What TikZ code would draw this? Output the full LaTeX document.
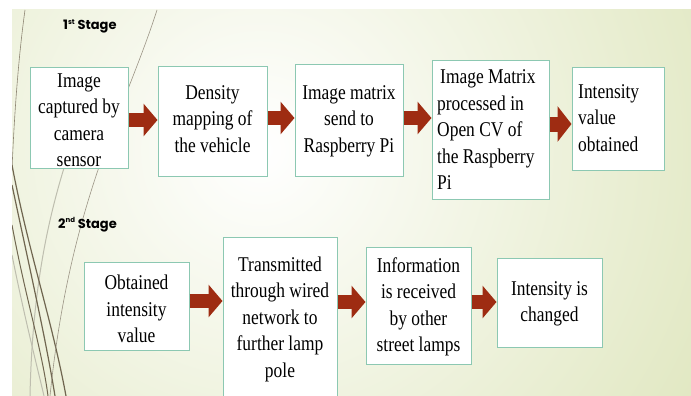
\documentclass[tikz,border=0pt]{standalone}
\usepackage{fontspec}
\setmainfont{Liberation Serif}
\newfontfamily\boxfont{Liberation Serif}[FakeStretch=0.83]
\newfontfamily\headfont{Poppins}
\usetikzlibrary{arrows.meta}
\definecolor{bordc}{RGB}{140,200,178}
\definecolor{arrc}{RGB}{158,44,18}
\definecolor{bgtint}{RGB}{224,231,192}
\definecolor{strand}{RGB}{112,102,80}
\definecolor{strandlight}{RGB}{190,190,175}
\begin{document}
\begin{tikzpicture}[x=1pt,y=-1pt,
  box/.style={draw=bordc, line width=1pt, fill=white, inner sep=0pt},
  txt/.style={inner sep=0pt, font=\boxfont\fontsize{21}{26.5}\selectfont, align=center},
  txtl/.style={txt, align=left, anchor=west},
  blk/.style={draw=arrc, line width=14pt, -{Triangle[width=32pt,length=14pt]}},
  blkbig/.style={draw=arrc, line width=15pt, -{Triangle[width=35pt,length=14pt]}},
  head/.style={font=\headfont\bfseries\fontsize{13}{13}\selectfont, anchor=base west, inner sep=0pt}]
\useasboundingbox (0,0) rectangle (691,396);
\fill[white] (0,0) rectangle (691,396);
\begin{scope}
  \clip (12,10) rectangle (691,396);
  \shade[inner color=white, outer color=bgtint] (260,150) circle (520);
  % decorative strands
  \draw[strand!80, line width=0.6pt] (25,10) .. controls (18,60) and (14,120) .. (12,170);
  \draw[strandlight, line width=1pt] (64,168) .. controls (45,230) and (32,300) .. (30,396);
  \draw[strandlight, line width=1pt] (12,255) .. controls (25,320) and (38,370) .. (44,396);
  \draw[strand, line width=1.2pt] (12,165) .. controls (28,250) and (52,320) .. (66,396);
  \draw[strand, line width=1.2pt] (12,185) .. controls (30,270) and (46,340) .. (55,396);
  \draw[strand, line width=1pt] (12,225) .. controls (26,300) and (42,350) .. (48,396);
  \draw[strand!70, line width=0.6pt] (157,10) .. controls (125,110) and (70,200) .. (50,396);
\end{scope}

% headings
\node[head] (h1) at (63,30) {1\raisebox{0.45em}{\fontsize{7}{7}\selectfont st} Stage};
\node[head] (h2) at (58,228) {2\raisebox{0.45em}{\fontsize{7}{7}\selectfont nd} Stage};

% stage 1 boxes
\node[box, minimum width=98, minimum height=100] (b1) at (79,118) {};
\node[box, minimum width=109, minimum height=109] (b2) at (212.5,121.5) {};
\node[box, minimum width=108, minimum height=111] (b3) at (349,120.5) {};
\node[box, minimum width=117, minimum height=138] (b4) at (490.5,130) {};
\node[box, minimum width=92, minimum height=102] (b5) at (618,119) {};

\node[txt] (t1) at (79,120) {Image\\captured by\\camera\\sensor};
\node[txt] (t2) at (212.5,119) {Density\\mapping of\\the vehicle};
\node[txt] (t3) at (349,121) {Image matrix\\send to\\Raspberry Pi};
\node[txtl] (t4) at (437,130) {\hspace{3pt}Image Matrix\\processed in\\Open CV of\\the Raspberry\\Pi};
\node[txtl] (t5) at (578,118) {Intensity\\value\\obtained};

% stage 2 boxes
\node[box, minimum width=105, minimum height=88] (b6) at (136.5,306) {};
\node[box, minimum width=114, minimum height=173] (b7) at (280,323.5) {};
\node[box, minimum width=105, minimum height=117] (b8) at (418.5,305.5) {};
\node[box, minimum width=105, minimum height=89] (b9) at (549.5,302.5) {};

\node[txt] (t6) at (136.5,309) {Obtained\\intensity\\value};
\node[txt] (t7) at (280,319) {Transmitted\\through wired\\network to\\further lamp\\pole};
\node[txt] (t8) at (418.5,307) {Information\\is received\\by other\\street lamps};
\node[txt] (t9) at (549.5,304) {Intensity is\\changed};

% arrows
\draw[blk] (b1.east |- 0,120) -- (b2.west |- 0,120);
\draw[blk] (b2.east |- 0,118) -- (b3.west |- 0,118);
\draw[blk] (b3.east |- 0,118) -- (b4.west |- 0,118);
\draw[blkbig] (b4.east |- 0,124) -- (b5.west |- 0,124);
\draw[blk] (b6.east |- 0,301) -- (b7.west |- 0,301);
\draw[blk] (b7.east |- 0,302) -- (b8.west |- 0,302);
\draw[blk] (b8.east |- 0,302) -- (b9.west |- 0,302);
\end{tikzpicture}
\end{document}
